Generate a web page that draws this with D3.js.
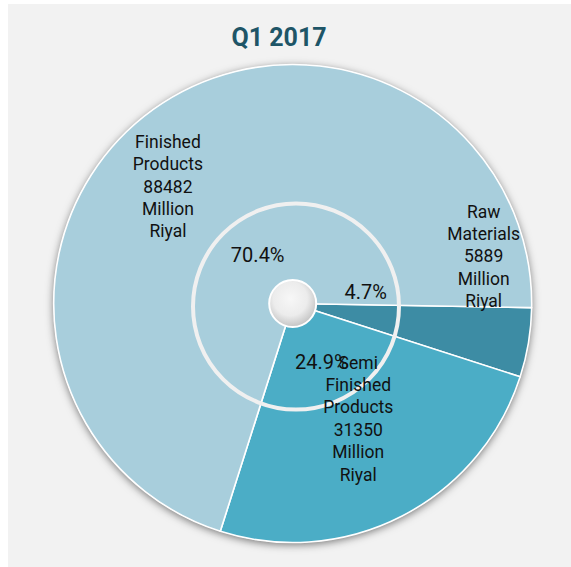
<!DOCTYPE html>
<html>
<head>
<meta charset="utf-8">
<script src="https://cdn.jsdelivr.net/npm/d3@7"></script>
<style>
  html, body { margin: 0; padding: 0; background: #ffffff; }
  svg { display: block; font-family: Roboto, 'Noto Sans', sans-serif; }
</style>
</head>
<body>
<div id="chart"></div>
<script>
// chart data
const categories = ['Raw Materials', 'Semi Finished Products', 'Finished Products'];
const values = [5889, 31350, 88482];
const percentLabels = ['4.7%', '24.9%', '70.4%'];
const unitLabel = ['Million', 'Riyal'];
const colors = ['#3d8ca4', '#4badc6', '#a8cedc'];

function main() {
  const svgWidth = 571;
  const svgHeight = 567;
  const cx = 292.7;
  const cy = 303.5;
  const radius = 239;

  const svg = d3.select('#chart').append('svg')
    .attr('width', svgWidth)
    .attr('height', svgHeight);

  const defs = svg.append('defs');
  const shadow = defs.append('filter').attr('id', 'shadow')
    .attr('x', '-20%').attr('y', '-20%').attr('width', '140%').attr('height', '140%');
  shadow.append('feDropShadow')
    .attr('dx', 0).attr('dy', 2)
    .attr('stdDeviation', 4)
    .attr('flood-color', '#000')
    .attr('flood-opacity', 0.55);

  const holeGrad = defs.append('radialGradient').attr('id', 'holeGrad')
    .attr('cx', '45%').attr('cy', '40%').attr('r', '60%');
  holeGrad.append('stop').attr('offset', '0%').attr('stop-color', '#f7f7f7');
  holeGrad.append('stop').attr('offset', '60%').attr('stop-color', '#ececec');
  holeGrad.append('stop').attr('offset', '100%').attr('stop-color', '#c4c4c4');

  // panel
  svg.append('rect')
    .attr('x', 8).attr('y', 4)
    .attr('width', svgWidth - 8).attr('height', svgHeight - 4)
    .attr('fill', '#f2f2f2');

  svg.append('text')
    .attr('x', 279)
    .attr('y', 46)
    .attr('text-anchor', 'middle')
    .attr('font-size', '25px')
    .attr('font-weight', 'bold')
    .attr('fill', '#1e5567')
    .text('Q1 2017');

  const pieData = categories.map((c, i) => ({ name: c, value: values[i], pct: percentLabels[i], color: colors[i] }));

  const startAngle = 91 * Math.PI / 180;
  const pie = d3.pie()
    .value(d => d.value)
    .sort(null)
    .startAngle(startAngle)
    .endAngle(startAngle + 2 * Math.PI);

  const arcs = pie(pieData);
  const arc = d3.arc().innerRadius(0).outerRadius(radius);

  const g = svg.append('g').attr('transform', `translate(${cx}, ${cy})`);

  g.append('circle')
    .attr('r', radius)
    .attr('fill', '#a8cedc')
    .attr('filter', 'url(#shadow)');

  g.selectAll('.slice')
    .data(arcs)
    .enter()
    .append('path')
    .classed('slice', true)
    .attr('d', arc)
    .attr('fill', d => d.data.color)
    .attr('stroke', '#ffffff')
    .attr('stroke-width', 1.6)
    .attr('stroke-linejoin', 'round');

  // inner ring
  g.append('circle')
    .attr('cx', 3.3)
    .attr('cy', 3)
    .attr('r', 103)
    .attr('fill', 'none')
    .attr('stroke', '#f0f0f0')
    .attr('stroke-width', 4);

  // centre hole
  g.append('circle')
    .attr('r', 23.5)
    .attr('fill', 'url(#holeGrad)')
    .attr('stroke', '#ffffff')
    .attr('stroke-width', 2);

  // label placement: radius and angle shift (deg) from slice mid angle
  const pctLayout = [{ r: 74, da: -18.6 }, { r: 65, da: 0.6 }, { r: 60, da: 0 }];
  const nameLayout = [{ r: 196, da: -22.5 }, { r: 135, da: -1.8 }, { r: 169, da: -11.9 }];

  function polar(d, lay) {
    const a = (d.startAngle + d.endAngle) / 2 + lay.da * Math.PI / 180;
    return [lay.r * Math.sin(a), -lay.r * Math.cos(a)];
  }

  g.selectAll('.pct')
    .data(arcs)
    .enter()
    .append('text')
    .classed('pct', true)
    .attr('transform', (d, i) => `translate(${polar(d, pctLayout[i])})`)
    .attr('text-anchor', 'middle')
    .attr('dy', '0.35em')
    .attr('font-size', '20px')
    .attr('fill', '#111')
    .text(d => d.data.pct);

  const lineH = 22.4;
  g.selectAll('.name')
    .data(arcs)
    .enter()
    .append('text')
    .classed('name', true)
    .attr('transform', (d, i) => `translate(${polar(d, nameLayout[i])})`)
    .attr('text-anchor', 'middle')
    .attr('font-size', '17.5px')
    .attr('fill', '#111')
    .each(function(d) {
      const lines = d.data.name.split(' ').concat([String(d.data.value)], unitLabel);
      const top = -(lines.length - 1) * lineH / 2 - 3;
      const t = d3.select(this);
      lines.forEach((ln, k) => {
        t.append('tspan')
          .attr('x', 0)
          .attr('y', top + k * lineH)
          .attr('dy', '0.35em')
          .text(ln);
      });
    });
}

main();
</script>
</body>
</html>
